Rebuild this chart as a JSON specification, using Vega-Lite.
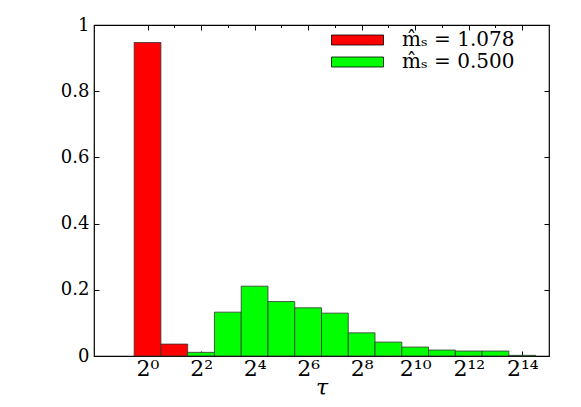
{
  "$schema": "https://vega.github.io/schema/vega-lite/v6.json",
  "width": 455,
  "height": 331,
  "autosize": "none",
  "padding": {"left": 94, "top": 25, "right": 32, "bottom": 51},
  "config": {
    "view": {"stroke": "black", "strokeWidth": 1.2},
    "font": "DejaVu Serif",
    "axis": {"domain": false, "grid": false, "tickColor": "black", "labelColor": "black", "titleColor": "black", "tickWidth": 1}
  },
  "data": {
    "values": [
      {"lo": -0.5, "hi": 0.5, "value": 0.947, "series": "m̂ₛ = 1.078"},
      {"lo": 0.5, "hi": 1.5, "value": 0.036, "series": "m̂ₛ = 1.078"},
      {"lo": 1.5, "hi": 2.5, "value": 0.011, "series": "m̂ₛ = 0.500"},
      {"lo": 2.5, "hi": 3.5, "value": 0.1325, "series": "m̂ₛ = 0.500"},
      {"lo": 3.5, "hi": 4.5, "value": 0.211, "series": "m̂ₛ = 0.500"},
      {"lo": 4.5, "hi": 5.5, "value": 0.1645, "series": "m̂ₛ = 0.500"},
      {"lo": 5.5, "hi": 6.5, "value": 0.1455, "series": "m̂ₛ = 0.500"},
      {"lo": 6.5, "hi": 7.5, "value": 0.1295, "series": "m̂ₛ = 0.500"},
      {"lo": 7.5, "hi": 8.5, "value": 0.070, "series": "m̂ₛ = 0.500"},
      {"lo": 8.5, "hi": 9.5, "value": 0.042, "series": "m̂ₛ = 0.500"},
      {"lo": 9.5, "hi": 10.5, "value": 0.027, "series": "m̂ₛ = 0.500"},
      {"lo": 10.5, "hi": 11.5, "value": 0.018, "series": "m̂ₛ = 0.500"},
      {"lo": 11.5, "hi": 12.5, "value": 0.015, "series": "m̂ₛ = 0.500"},
      {"lo": 12.5, "hi": 13.5, "value": 0.015, "series": "m̂ₛ = 0.500"},
      {"lo": 13.5, "hi": 14.5, "value": 0.002, "series": "m̂ₛ = 0.500"}
    ]
  },
  "layer": [
    {
      "mark": {"type": "rect", "stroke": "#333333", "strokeWidth": 0.8},
      "encoding": {
        "x": {
          "field": "lo", "type": "quantitative",
          "scale": {"domain": [-2, 15], "nice": false, "zero": false},
          "title": "τ",
          "axis": {
            "orient": "bottom",
            "values": [0, 1, 2, 3, 4, 5, 6, 7, 8, 9, 10, 11, 12, 13, 14],
            "labelExpr": "datum.value % 2 != 0 ? '' : '2' + ['⁰','','²','','⁴','','⁶','','⁸','','¹⁰','','¹²','','¹⁴'][datum.value]",
            "tickSize": {"condition": {"test": "datum.value % 2 == 0", "value": -5}, "value": -2.5},
            "labelPadding": 7,
            "labelFontSize": 22,
            "labelFont": "DejaVu Serif",
            "titleFont": "DejaVu Serif",
            "titleFontStyle": "italic",
            "titleFontWeight": "normal",
            "titleFontSize": 22,
            "titlePadding": -4,
            "labelFlush": false,
            "labelOverlap": false
          }
        },
        "x2": {"field": "hi"},
        "y": {
          "field": "value", "type": "quantitative",
          "scale": {"domain": [0, 1], "nice": false, "zero": true},
          "title": null,
          "axis": {
            "orient": "left",
            "values": [0, 0.2, 0.4, 0.6, 0.8, 1],
            "labelExpr": "datum.value == 0 ? '0' : datum.value == 1 ? '1' : format(datum.value, '.1f')",
            "tickSize": -5,
            "labelPadding": 10,
            "labelFontSize": 18,
            "labelFont": "DejaVu Serif",
            "labelFlush": false,
            "labelOverlap": false
          }
        },
        "y2": {"datum": 0},
        "fill": {
          "field": "series", "type": "nominal",
          "scale": {"domain": ["m̂ₛ = 1.078", "m̂ₛ = 0.500"], "range": ["#ff0000", "#00ff00"]},
          "legend": {
            "orient": "none", "legendX": 253, "legendY": 4.5, "title": null,
            "symbolType": "M-2.6,-0.5H2.6V0.5H-2.6Z", "symbolSize": 400,
            "symbolStrokeColor": "black", "symbolStrokeWidth": 0.8, "symbolOpacity": 1,
            "labelFontSize": 20, "labelFont": "DejaVu Serif", "labelColor": "black",
            "labelOffset": 34, "rowPadding": 1, "labelLimit": 300, "padding": 0
          }
        }
      }
    },
    {
      "mark": {"type": "rect", "opacity": 0},
      "encoding": {
        "x": {
          "field": "lo", "type": "quantitative",
          "axis": {
            "orient": "top",
            "values": [0, 1, 2, 3, 4, 5, 6, 7, 8, 9, 10, 11, 12, 13, 14],
            "labels": false,
            "title": null,
            "tickSize": {"condition": {"test": "datum.value % 2 == 0", "value": -5}, "value": -2.5}
          }
        },
        "x2": {"field": "hi"},
        "y": {
          "field": "value", "type": "quantitative",
          "axis": {
            "orient": "right",
            "values": [0, 0.2, 0.4, 0.6, 0.8, 1],
            "labels": false,
            "title": null,
            "tickSize": -5
          }
        },
        "y2": {"datum": 0}
      }
    }
  ]
}
